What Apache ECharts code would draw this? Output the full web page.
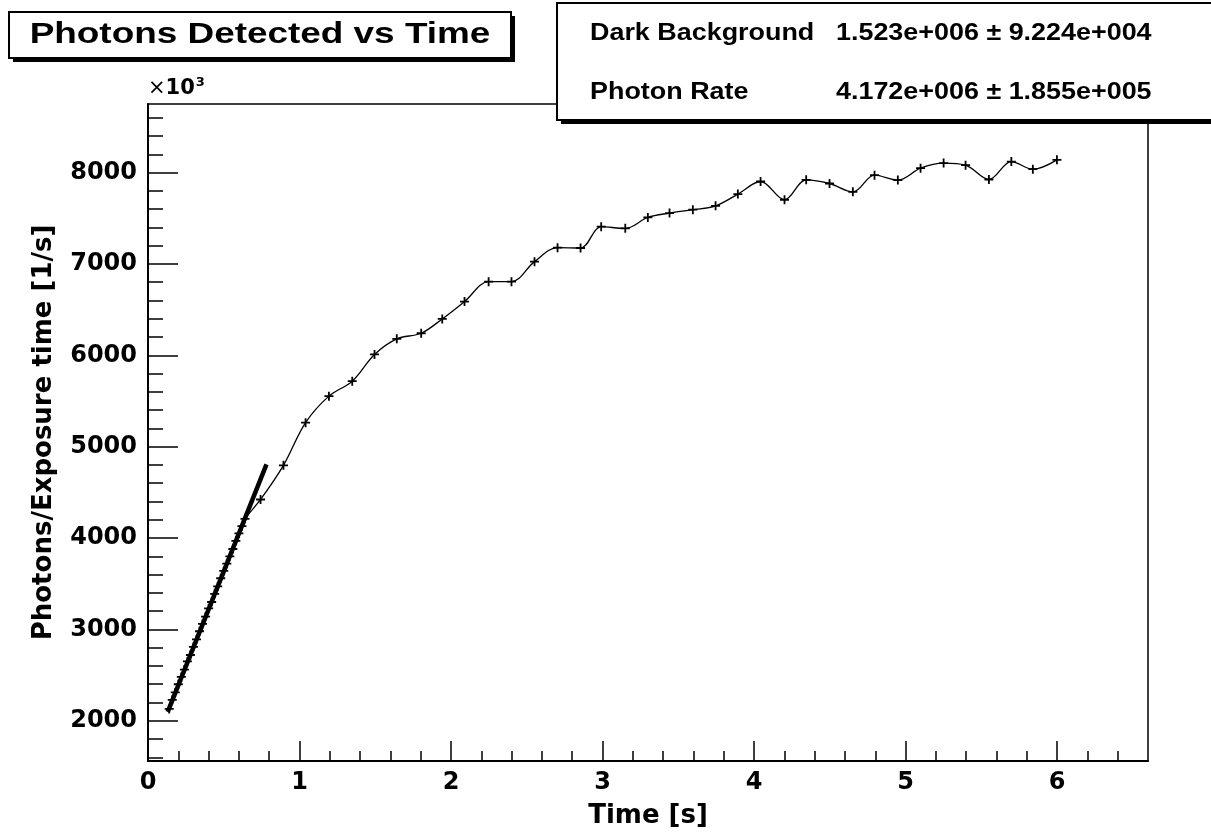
<!DOCTYPE html>
<html>
<head>
<meta charset="utf-8">
<script src="https://cdn.jsdelivr.net/npm/echarts@6/dist/echarts.min.js"></script>
<style>
html,body{margin:0;padding:0;background:#fff;}
#chart{width:1211px;height:833px;}
</style>
</head>
<body>
<div id="chart"></div>
<script>
// ---- data ----
const graphTime = [0.14,0.16,0.18,0.20,0.22,0.24,0.26,0.28,0.30,0.32,0.34,0.36,0.38,0.40,0.42,0.44,0.46,0.48,0.50,0.52,0.54,0.56,0.58,0.60,0.62,0.64,
  0.743,0.894,1.040,1.194,1.348,1.495,1.642,1.803,1.942,2.089,2.248,2.399,2.551,2.703,2.855,2.991,3.150,3.299,3.442,3.596,3.746,3.893,4.043,4.201,4.344,4.498,4.652,4.795,4.949,5.099,5.251,5.396,5.550,5.698,5.840,5.999];
const graphRate = [2130,2230,2310,2400,2480,2560,2650,2720,2810,2890,2980,3060,3140,3230,3300,3390,3470,3560,3640,3720,3800,3880,3970,4050,4130,4210,
  4422,4796,5263,5553,5717,6009,6180,6241,6398,6588,6806,6806,7025,7178,7174,7407,7389,7509,7556,7593,7636,7764,7902,7702,7920,7880,7789,7971,7917,8048,8103,8081,7924,8120,8037,8139];
const fitTime = [0.13, 0.782];
const fitRate = [2098, 4807];
const xMajorTicks = [0,1,2,3,4,5,6];
const xMinorTicks = [0.2,0.4,0.6,0.8,1.2,1.4,1.6,1.8,2.2,2.4,2.6,2.8,3.2,3.4,3.6,3.8,4.2,4.4,4.6,4.8,5.2,5.4,5.6,5.8,6.2,6.4];
const yMajorTicks = [2000,3000,4000,5000,6000,7000,8000];
const yMinorTicks = [1600,1800,2200,2400,2600,2800,3200,3400,3600,3800,4200,4400,4600,4800,5200,5400,5600,5800,6200,6400,6600,6800,7200,7400,7600,7800,8200,8400,8600];
const titleText = 'Photons Detected vs Time';
const statLabels = ['Dark Background', 'Photon Rate'];
const statValues = ['1.523e+006 \u00b1 9.224e+004', '4.172e+006 \u00b1 1.855e+005'];
const xTitle = 'Time [s]';
const yTitle = 'Photons/Exposure time [1/s]';

const FONT = 'DejaVu Sans';
const HFONT = 'Liberation Sans';
const X_MIN = 0, X_MAX = 6.6, Y_MIN = 1560, Y_MAX = 8750;

const chart = echarts.init(document.getElementById('chart'), null, {renderer: 'canvas'});

const crossPath = 'path://M4,0 L6,0 L6,4 L10,4 L10,6 L6,6 L6,10 L4,10 L4,6 L0,6 L0,4 L4,4 Z';

const labelStyle = {color: '#000', fontFamily: FONT, fontWeight: 'bold', fontSize: 24};
const nameStyle = {color: '#000', fontFamily: FONT, fontWeight: 'bold', fontSize: 26};

const graphData = graphTime.map((t, i) => [t, graphRate[i]]);
const fitData = fitTime.map((t, i) => [t, fitRate[i]]);

const option = {
  animation: false,
  backgroundColor: '#fff',
  grid: {left: 148, right: 63, top: 104, bottom: 72, show: true, borderColor: '#000', borderWidth: 1.5, backgroundColor: 'transparent', containLabel: false, outerBoundsMode: 'none'},
  xAxis: [
    {
      type: 'value', min: X_MIN, max: X_MAX, position: 'bottom',
      axisLine: {show: true, lineStyle: {color: '#000', width: 2}},
      axisTick: {show: true, inside: true, length: 20, customValues: xMajorTicks, lineStyle: {color: '#000', width: 1.5}},
      axisLabel: Object.assign({customValues: xMajorTicks, margin: 10, formatter: v => String(v)}, labelStyle),
      splitLine: {show: false},
      name: xTitle, nameLocation: 'middle', nameGap: 42, nameMoveOverlap: false,
      nameTextStyle: nameStyle
    },
    {
      type: 'value', min: X_MIN, max: X_MAX, position: 'bottom',
      axisLine: {show: false},
      axisTick: {show: true, inside: true, length: 10, customValues: xMinorTicks, lineStyle: {color: '#000', width: 1.5}},
      axisLabel: {show: false},
      splitLine: {show: false}
    }
  ],
  yAxis: [
    {
      type: 'value', min: Y_MIN, max: Y_MAX, position: 'left',
      axisLine: {show: true, lineStyle: {color: '#000', width: 2}},
      axisTick: {show: true, inside: true, length: 30, customValues: yMajorTicks, lineStyle: {color: '#000', width: 1.5}},
      axisLabel: Object.assign({customValues: yMajorTicks, margin: 11, formatter: v => String(v)}, labelStyle),
      splitLine: {show: false},
      name: yTitle, nameLocation: 'middle', nameGap: 91, nameMoveOverlap: false,
      nameTextStyle: nameStyle
    },
    {
      type: 'value', min: Y_MIN, max: Y_MAX, position: 'left',
      axisLine: {show: false},
      axisTick: {show: true, inside: true, length: 15, customValues: yMinorTicks, lineStyle: {color: '#000', width: 1.5}},
      axisLabel: {show: false},
      splitLine: {show: false}
    }
  ],
  series: [
    {
      type: 'line', name: 'data', xAxisIndex: 0, yAxisIndex: 0,
      data: graphData, smooth: 0.35,
      lineStyle: {color: '#000', width: 1.3},
      symbol: crossPath, symbolSize: 9, showAllSymbol: true,
      itemStyle: {color: '#000'},
      z: 3
    },
    {
      type: 'line', name: 'fit', xAxisIndex: 0, yAxisIndex: 0,
      data: fitData, smooth: false, symbol: 'none',
      lineStyle: {color: '#000', width: 4.5, cap: 'butt'},
      z: 4
    }
  ],
  graphic: [
    {type: 'rect', z: 100, shape: {x: 13, y: 16, width: 502, height: 46}, style: {fill: '#000'}},
    {type: 'rect', z: 101, shape: {x: 9, y: 12, width: 502, height: 46}, style: {fill: '#fff', stroke: '#000', lineWidth: 2}},
    {type: 'text', z: 102, x: 260, y: 35, scaleX: 1.23,
      style: {text: titleText, fill: '#000', font: 'bold 30px "' + HFONT + '"', textAlign: 'center', textVerticalAlign: 'middle'}},
    {type: 'rect', z: 100, shape: {x: 561, y: 7, width: 700, height: 117}, style: {fill: '#000'}},
    {type: 'rect', z: 101, shape: {x: 557, y: 3, width: 700, height: 117}, style: {fill: '#fff', stroke: '#000', lineWidth: 2}},
    {type: 'text', z: 102, x: 590, y: 34, scaleX: 1.17,
      style: {text: statLabels[0], fill: '#000', font: 'bold 23px "' + HFONT + '"', textAlign: 'left', textVerticalAlign: 'middle'}},
    {type: 'text', z: 102, x: 590, y: 93, scaleX: 1.17,
      style: {text: statLabels[1], fill: '#000', font: 'bold 23px "' + HFONT + '"', textAlign: 'left', textVerticalAlign: 'middle'}},
    {type: 'text', z: 102, x: 836, y: 34, scaleX: 1.17,
      style: {text: statValues[0], fill: '#000', font: 'bold 23px "' + HFONT + '"', textAlign: 'left', textVerticalAlign: 'middle'}},
    {type: 'text', z: 102, x: 836, y: 93, scaleX: 1.17,
      style: {text: statValues[1], fill: '#000', font: 'bold 23px "' + HFONT + '"', textAlign: 'left', textVerticalAlign: 'middle'}},
    {type: 'text', z: 102, x: 148, y: 101,
      style: {text: '{a|\u00d7}{b|10}{c|3}', textVerticalAlign: 'bottom', textAlign: 'left',
        rich: {
          a: {fontFamily: FONT, fontSize: 21, fontWeight: 'normal', fill: '#000', color: '#000'},
          b: {fontFamily: FONT, fontSize: 21, fontWeight: 'bold', fill: '#000', color: '#000'},
          c: {fontFamily: FONT, fontSize: 13, fontWeight: 'bold', fill: '#000', color: '#000', verticalAlign: 'top', padding: [0, 0, 12, 1]}
        }}}
  ]
};
chart.setOption(option);
</script>
</body>
</html>
